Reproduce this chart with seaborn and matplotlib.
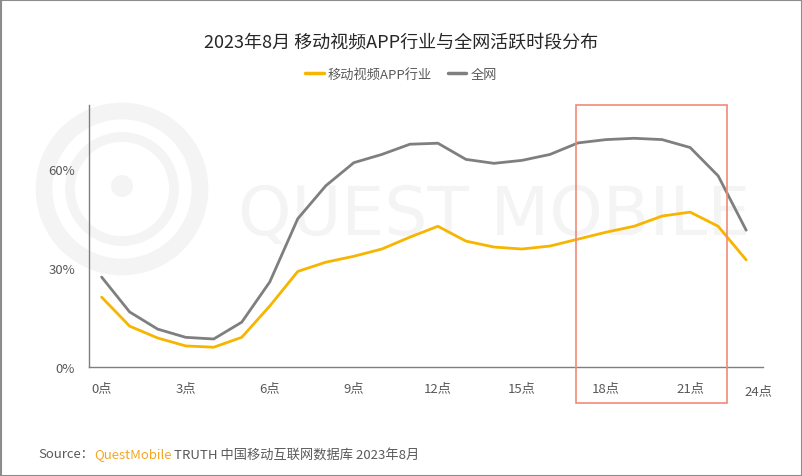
import matplotlib
matplotlib.use("Agg")
import matplotlib.pyplot as plt
import seaborn as sns
import pandas as pd
from matplotlib.patches import Rectangle, Circle
from matplotlib.lines import Line2D

# ---- data ----
hours = list(range(24))
video_app = [21.2, 12.4, 8.8, 6.4, 6.0, 9.0, 18.5, 29.0, 31.8, 33.6, 35.8, 39.4,
             42.7, 38.2, 36.4, 35.8, 36.7, 38.8, 40.9, 42.7, 45.8, 47.0, 42.7, 32.5]
all_net = [27.3, 16.7, 11.5, 9.0, 8.5, 13.6, 25.8, 45.0, 55.0, 62.0, 64.5, 67.6,
           67.9, 63.0, 61.8, 62.7, 64.5, 68.0, 69.0, 69.4, 69.0, 66.6, 58.0, 41.5]
series_names = ["移动视频APP行业", "全网"]
tick_hours = [0, 3, 6, 9, 12, 15, 18, 21]
tick_labels = ["0点", "3点", "6点", "9点", "12点", "15点", "18点", "21点"]
end_label = "24点"
y_ticks = [0, 30, 60]
y_tick_labels = ["0%", "30%", "60%"]
title = "2023年8月 移动视频APP行业与全网活跃时段分布"

YELLOW = "#f7b500"
GRAY = "#7f7f7f"
TXT = "#595959"

sns.set_style("white")
plt.rcParams['font.family'] = ['Noto Sans CJK SC', 'DejaVu Sans']

W, H = 802, 477
fig = plt.figure(figsize=(W / 100, H / 100), dpi=100)
L, R, T, B = 89, 763, 106, 368
ax = fig.add_axes([L / W, 1 - B / H, (R - L) / W, (B - T) / H])

df = pd.DataFrame({
    "hour": hours * 2,
    "value": video_app + all_net,
    "series": [series_names[0]] * 24 + [series_names[1]] * 24,
})

# watermark (behind everything)
wm_color = "#f4f4f4"
fig.text(238 / W, 1 - 216 / H, "QUEST MOBILE", fontsize=49, color=wm_color,
         family="DejaVu Sans", va="center", ha="left", zorder=-5)
for r, lw in [(78, 12), (52, 7)]:
    fig.patches.append(Circle((122, H - 190), r, transform=None, fill=False,
                              ec=wm_color, lw=lw, zorder=-5))
fig.patches.append(Circle((122, H - 187), 11, transform=None, fc=wm_color,
                          ec="none", zorder=-5))
ax.patch.set_alpha(0)

sns.lineplot(data=df, x="hour", y="value", hue="series", palette=[YELLOW, GRAY],
             linewidth=2.0, legend=False, ax=ax)

ax.set_xlim(-0.45, 23.6)
ax.set_ylim(0, 79.5)
ax.set_xticks(tick_hours)
ax.set_xticklabels(tick_labels)
ax.set_yticks(y_ticks)
ax.set_yticklabels(y_tick_labels)
ax.tick_params(axis="both", length=0, labelsize=9.5, colors=TXT)
ax.tick_params(axis="x", pad=10)
ax.tick_params(axis="y", pad=10)
ax.set_xlabel("")
ax.set_ylabel("")
for s in ["top", "right"]:
    ax.spines[s].set_visible(False)
for s in ["left", "bottom"]:
    ax.spines[s].set_color(GRAY)
    ax.spines[s].set_linewidth(1.0)

fig.text(758 / W, 1 - 392 / H, end_label, fontsize=9.5, color=TXT,
         ha="center", va="center")

# title
fig.text(401 / W, 1 - 43 / H, title, fontsize=13, color="#262626",
         ha="center", va="center")

# legend
handles = [Line2D([0], [0], color=YELLOW, lw=2.5),
           Line2D([0], [0], color=GRAY, lw=2.5)]
fig.legend(handles, series_names, loc="center", bbox_to_anchor=(401 / W, 1 - 75 / H),
           ncol=2, frameon=False, fontsize=9.5, handlelength=1.4,
           handletextpad=0.3, columnspacing=1.2, labelcolor=TXT)

# highlight box
fig.patches.append(Rectangle((576, H - 404), 151, 298, transform=None, fill=False,
                             ec="#f08a78", lw=1.2, zorder=5))

# figure border
fig.patches.append(Rectangle((0.5, 0.5), W - 1, H - 1, transform=None, fill=False,
                             ec="#8c8c8c", lw=1.5, zorder=10))

# source line
fig.canvas.draw()
renderer = fig.canvas.get_renderer()
x = 38 / W
y = 1 - 455 / H
for txt, col in [("Source：", TXT), ("QuestMobile", "#f5a623"),
                 (" TRUTH 中国移动互联网数据库 2023年8月", TXT)]:
    t = fig.text(x, y, txt, fontsize=9.5, color=col, ha="left", va="center")
    bb = t.get_window_extent(renderer=renderer)
    x += bb.width / W

fig.savefig("out.png", dpi=100)
